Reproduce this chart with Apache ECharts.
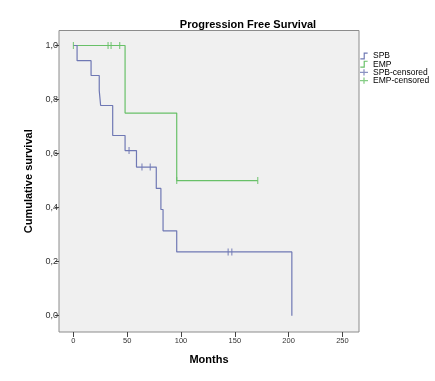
<!DOCTYPE html>
<html>
<head>
<meta charset="utf-8">
<script src="https://cdn.jsdelivr.net/npm/echarts@6/dist/echarts.min.js"></script>
<style>html,body{margin:0;padding:0;background:#fff}#c{width:435px;height:381px}</style>
</head>
<body>
<div id="c"></div>
<script>
// Kaplan-Meier step points [months, survival]
var spbTimes = [0, 3.4, 16.4, 24, 25.3, 36.5, 48, 58.6, 77, 81.3, 83.3, 96, 203];
var spbSurv  = [1.0, 0.944, 0.889, 0.833, 0.778, 0.667, 0.611, 0.550, 0.471, 0.393, 0.314, 0.236, 0.0];
var empTimes = [0, 48, 96, 171.3];
var empSurv  = [1.0, 0.75, 0.5, 0.5];
// censored observations
var spbCensTimes = [51.7, 63.7, 71.4, 143.8, 147.2];
var spbCensSurv  = [0.611, 0.550, 0.550, 0.236, 0.236];
var empCensTimes = [0, 32.2, 35, 43, 96, 171.3];
var empCensSurv  = [1.0, 1.0, 1.0, 1.0, 0.5, 0.5];
var xTicks = [0, 50, 100, 150, 200, 250];
var yTicks = [0, 0.2, 0.4, 0.6, 0.8, 1.0];
var seriesNames = ['SPB', 'EMP', 'SPB-censored', 'EMP-censored'];

function pairs(a, b) { return a.map(function (v, i) { return [v, b[i]]; }); }

var blue = '#6f78b4', green = '#68c068';
var font = "'Liberation Sans', Arial, sans-serif";
var stepIcon = 'path://M0,8 L4.5,8 L4.5,0 L10,0 L10,1.6 L6.1,1.6 L6.1,9.6 L0,9.6 Z';
var plusIcon = 'path://M0,4.2 L10,4.2 L10,5.8 L0,5.8 Z M4.2,1 L5.8,1 L5.8,9 L4.2,9 Z';

var chart = echarts.init(document.getElementById('c'), null, {renderer: 'canvas'});
chart.setOption({
  backgroundColor: '#ffffff',
  animation: false,
  title: {
    text: 'Progression Free Survival',
    left: 243, top: 14, textAlign: 'center',
    textStyle: {fontFamily: font, fontSize: 11, fontWeight: 'bold', color: '#000'}
  },
  legend: {
    orient: 'vertical', left: 360, top: 51.5, padding: 0,
    itemWidth: 8, itemHeight: 7, itemGap: -0.8,
    textStyle: {fontFamily: font, fontSize: 8.5, color: '#000', lineHeight: 7},
    data: [
      {name: seriesNames[0], icon: stepIcon, itemStyle: {color: blue}},
      {name: seriesNames[1], icon: stepIcon, itemStyle: {color: green}},
      {name: seriesNames[2], icon: plusIcon, itemStyle: {color: blue}},
      {name: seriesNames[3], icon: plusIcon, itemStyle: {color: green}}
    ]
  },
  grid: {
    left: 59, top: 30.5, width: 300, height: 301.5,
    show: true, backgroundColor: '#f0f0f0', borderColor: '#8c8c8c', borderWidth: 1
  },
  xAxis: {
    type: 'value', min: -13.4, max: 265.4, position: 'bottom',
    name: 'Months', nameLocation: 'middle', nameGap: 22,
    nameTextStyle: {fontFamily: font, fontSize: 11, fontWeight: 'bold', color: '#000'},
    axisLine: {show: false, onZero: false},
    splitLine: {show: false},
    axisTick: {show: true, inside: false, customValues: xTicks, length: 5, lineStyle: {color: '#444'}},
    axisLabel: {customValues: xTicks, inside: false, fontFamily: font, fontSize: 7.5, color: '#333', margin: 5}
  },
  yAxis: {
    type: 'value', min: -0.0604, max: 1.0556, position: 'left',
    name: 'Cumulative survival', nameLocation: 'middle', nameGap: 24, nameRotate: 90,
    nameTextStyle: {fontFamily: font, fontSize: 11, fontWeight: 'bold', color: '#000'},
    axisLine: {show: false, onZero: false},
    splitLine: {show: false},
    axisTick: {show: true, inside: false, customValues: yTicks, length: 4, lineStyle: {color: '#444'}},
    axisLabel: {customValues: yTicks, inside: false, fontFamily: font, fontSize: 9, color: '#333', margin: 1,
      formatter: function (v) { return v.toFixed(1).replace('.', ','); }}
  },
  series: [
    {name: seriesNames[0], type: 'line', step: 'end', data: pairs(spbTimes, spbSurv),
      showSymbol: false, symbol: 'none', lineStyle: {color: blue, width: 1.2}, itemStyle: {color: blue}, z: 3},
    {name: seriesNames[1], type: 'line', step: 'end', data: pairs(empTimes, empSurv),
      showSymbol: false, symbol: 'none', lineStyle: {color: green, width: 1.2}, itemStyle: {color: green}, z: 2},
    {name: seriesNames[2], type: 'scatter', data: pairs(spbCensTimes, spbCensSurv),
      symbol: 'rect', symbolSize: [1.2, 7], itemStyle: {color: blue}, z: 4},
    {name: seriesNames[3], type: 'scatter', data: pairs(empCensTimes, empCensSurv),
      symbol: 'rect', symbolSize: [1.2, 7], itemStyle: {color: green}, z: 4}
  ]
});
</script>
</body>
</html>
